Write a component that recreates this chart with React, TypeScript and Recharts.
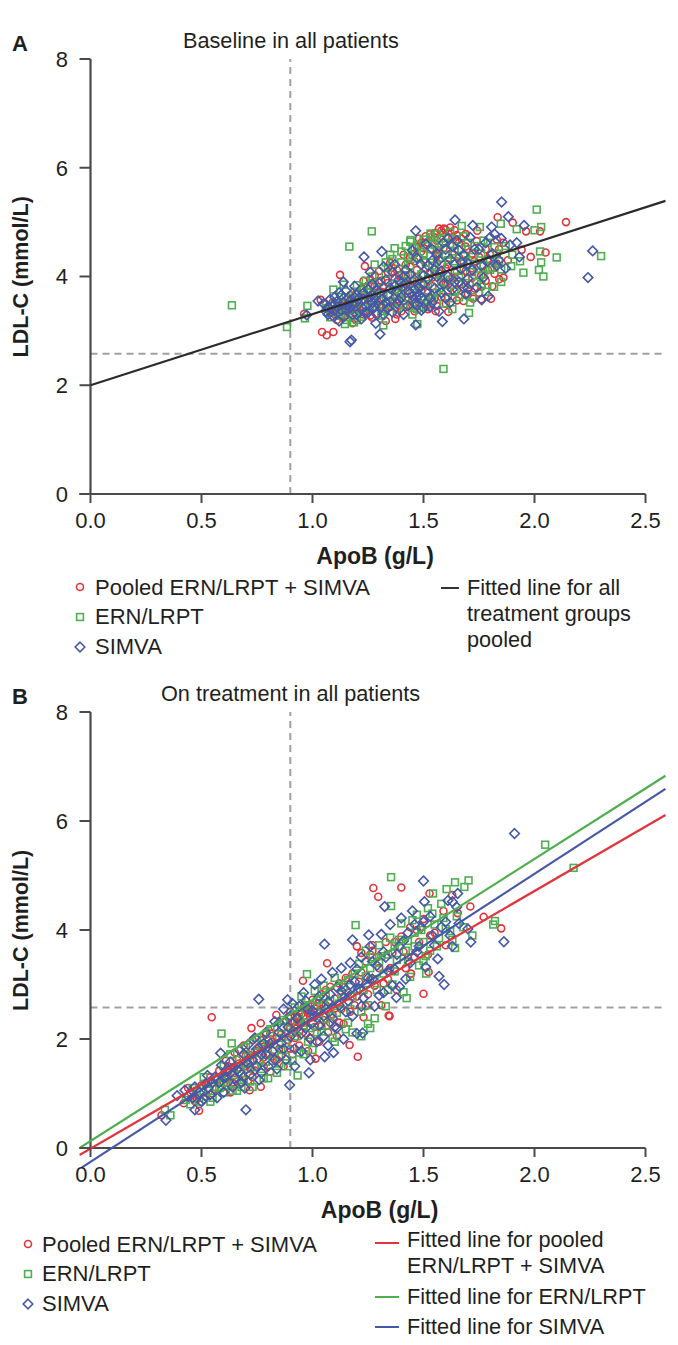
import React from "react";
import { ReferenceLine, Scatter, ScatterChart, XAxis, YAxis } from "recharts";

const RED = "#e2343c";
const GREEN = "#4eae50";
const BLUE = "#4458a8";
const AXIS = "#4a4a4a";
const DASH = "#a0a0a0";
const TEXT = "#1f1f1f";
const FONT = "'Liberation Sans', Arial, sans-serif";

const xTicks = [0, 0.5, 1, 1.5, 2, 2.5];
const yTicks = [0, 2, 4, 6, 8];
const apobCut = 0.9;
const ldlCut = 2.58;

// baseline panel
const baselineRed = [
  [2.142,5],[1.834,5.09],[1.902,4.99],[1.962,4.83],[2.025,4.83],[2.05,4.44],[1.983,4.36],[1.942,4.49],[1.124,4.03],[1.037,3.57],[0.962,3.31],[1.043,2.98],[1.064,2.92],[1.094,2.98],[1.373,3.22],[1.555,3.36],[1.612,3.35],[1.724,3.59],[1.804,3.59],[1.762,3.81],[1.841,3.95],[1.592,4.88],[1.742,4.84],[1.236,4.19],[1.86,4.62],
  [1.08,3.35],[1.11,3.2],[1.13,3.52],[1.15,3.28],[1.17,3.66],[1.18,3.14],[1.2,3.42],[1.22,3.78],[1.23,3.3],[1.25,3.6],[1.26,3.95],[1.27,3.24],[1.29,3.5],[1.3,4.1],[1.31,3.72],[1.33,3.38],[1.34,3.88],[1.35,4.25],[1.36,3.55],[1.38,3.3],[1.39,4.02],[1.4,3.68],[1.41,4.4],[1.42,3.44],[1.43,3.85],[1.44,4.18],[1.45,3.58],[1.46,3.36],[1.47,4.55],[1.48,3.95],[1.49,3.74],[1.5,4.3],[1.51,3.52],[1.52,4.62],[1.53,4.08],[1.54,3.82],[1.55,4.72],[1.56,3.46],[1.57,4.42],[1.58,3.9],[1.59,4.8],[1.6,4.15],[1.61,3.62],[1.62,4.58],[1.63,3.98],[1.64,4.85],[1.65,3.75],[1.66,4.35],[1.67,4.7],[1.68,3.55],[1.69,4.1],[1.7,4.5],[1.71,3.85],[1.73,4.28],[1.74,4.65],[1.75,3.7],[1.77,4.2],[1.78,3.92],[1.8,4.4],[1.82,4.05],[1.84,4.5],[1.86,3.98],[1.88,4.3],
  [1.12,3.4],[1.16,3.58],[1.21,3.5],[1.28,3.82],[1.32,3.6],[1.37,3.98],[1.43,3.62],[1.47,4.12],[1.52,3.7],[1.56,4.25],[1.6,3.86],[1.63,4.4],[1.67,4.02],[1.72,4.15],[1.5,4.52],[1.56,4.66],[1.61,4.72],[1.44,4.35],
  [1.1,3.3],[1.14,3.46],[1.19,3.22],[1.21,3.34],[1.24,3.44],[1.26,3.28],[1.27,3.68],[1.3,3.46],[1.32,3.82],[1.33,3.18],[1.35,3.44],[1.37,3.62],[1.38,4.12],[1.4,3.36],[1.41,3.8],[1.42,4.22],[1.44,3.46],[1.45,3.92],[1.46,4.28],[1.48,3.52],[1.49,4.46],[1.5,3.84],[1.51,4.14],[1.52,3.4],[1.53,4.5],[1.54,3.98],[1.55,3.6],[1.56,4.38],[1.57,4.06],[1.58,3.62],[1.59,4.52],[1.6,3.5],[1.61,4.22],[1.62,3.8],[1.63,4.72],[1.64,4.08],[1.65,3.56],[1.66,4.62],[1.67,3.86],[1.68,4.28],[1.69,4.78],[1.7,3.68],[1.72,4.42],[1.73,3.78],[1.75,4.36],[1.76,3.58],[1.78,4.5],[1.79,4.12],[1.81,3.82],[1.83,4.68],[1.58,4.84],[1.6,4.86],[1.55,4.8],[1.49,4.62],[1.23,3.92],[1.28,4.02],
  [1.07,3.42],[1.09,3.52],[1.13,3.26],[1.16,3.4],[1.18,3.52],[1.2,3.7],[1.24,3.64],[1.25,3.84],[1.29,3.32],[1.31,3.92],[1.34,4.08],[1.36,4.16],[1.39,3.46],[1.42,4.02],[1.46,4.42],[1.48,4.7],[1.51,4.74],[1.53,4.78],[1.57,4.88],[1.62,4.9],[1.65,4.76],[1.69,4.55],[1.72,3.98],[1.76,4.02],[1.79,4.32],[1.83,4.24],
];
const baselineGreen = [
  [0.637,3.47],[0.885,3.07],[2.01,5.23],[1.59,2.3],[2.3,4.375],[2.1,4.35],[2.03,4.91],[2,4.85],[2.025,4.46],[2.03,4.26],[2.02,4.12],[2.04,4],[1.95,4.07],[1.85,4.13],[1.895,4.19],[1.935,4.28],[1.267,4.83],[1.166,4.55],[1.094,3.76],[0.977,3.46],[0.966,3.23],[1.705,3.33],[1.472,3.125],[1.319,3.1],[1.187,3.156],[1.146,3.125],[1.818,3.81],[1.672,4.93],[1.754,4.91],[1.848,4.97],[1.92,4.87],[1.532,4.79],[1.442,4.67],
  [1.06,3.42],[1.1,3.5],[1.12,3.28],[1.14,3.85],[1.16,3.36],[1.19,3.72],[1.2,3.2],[1.22,3.55],[1.24,3.92],[1.26,3.42],[1.28,4.22],[1.29,3.68],[1.31,3.28],[1.33,4.05],[1.34,3.5],[1.36,4.32],[1.37,3.76],[1.38,3.4],[1.4,4.46],[1.41,3.92],[1.42,3.56],[1.44,4.2],[1.45,3.3],[1.46,4.52],[1.47,3.7],[1.49,4.04],[1.5,4.68],[1.51,3.44],[1.52,3.86],[1.53,4.38],[1.54,3.6],[1.55,4.58],[1.57,3.78],[1.58,4.22],[1.59,3.5],[1.6,4.62],[1.62,3.94],[1.63,3.4],[1.64,4.46],[1.65,4.12],[1.66,3.62],[1.68,4.74],[1.69,3.88],[1.7,4.3],[1.72,3.62],[1.73,4.56],[1.75,4.02],[1.76,4.42],[1.78,3.72],[1.79,4.62],[1.81,4.16],[1.83,4.42],[1.87,4.56],[1.9,4.4],
  [1.15,3.62],[1.23,3.75],[1.3,3.9],[1.35,3.66],[1.39,4.14],[1.43,4.02],[1.48,4.34],[1.5,3.62],[1.54,4.2],[1.58,4],[1.61,4.3],[1.64,3.72],[1.67,4.5],[1.71,4.08],[1.45,4.4],[1.56,4.78],[1.62,4.82],
  [1.08,3.25],[1.13,3.62],[1.17,3.46],[1.2,3.84],[1.22,3.26],[1.25,3.7],[1.27,4],[1.3,3.55],[1.32,3.36],[1.34,4.16],[1.36,3.86],[1.38,3.54],[1.4,4.26],[1.41,3.48],[1.43,4.36],[1.45,3.76],[1.46,3.46],[1.48,4.58],[1.49,3.88],[1.51,4.26],[1.52,3.54],[1.53,4.72],[1.55,4.04],[1.56,3.7],[1.57,4.48],[1.59,3.9],[1.6,4.4],[1.62,4.6],[1.63,3.6],[1.65,4.68],[1.66,3.98],[1.67,4.24],[1.69,3.66],[1.7,4.62],[1.71,3.52],[1.74,4.2],[1.76,3.86],[1.77,4.66],[1.8,4.3],[1.82,4.54],[1.85,3.9],[1.27,3.44],[1.19,3.4],[1.39,3.72],[1.47,3.98],
  [1.11,3.36],[1.15,3.2],[1.18,3.6],[1.21,3.42],[1.26,3.84],[1.28,3.56],[1.33,4.26],[1.35,4.4],[1.37,4.52],[1.42,4.56],[1.44,4.64],[1.47,3.4],[1.5,4.42],[1.54,4.62],[1.58,4.7],[1.61,3.72],[1.64,4.28],[1.68,4.38],[1.72,4.36],[1.74,3.9],[1.77,4.04],[1.8,4.12],[1.84,4.28],
];
const baselineBlue = [
  [1.852,5.37],[1.882,5.1],[2.262,4.47],[2.241,3.98],[1.642,5.04],[1.722,4.94],[1.953,4.94],[1.465,4.84],[1.807,4.91],[1.169,2.8],[1.175,2.83],[1.304,2.94],[1.585,3.17],[1.682,3.22],[1.465,3.11],[1.285,3.14],[1.312,4.46],[1.232,4.36],[1.139,3.9],[1.762,3.57],[1.792,3.64],[1.932,4.36],[1.025,3.55],[0.974,3.29],
  [1.05,3.5],[1.07,3.3],[1.09,3.46],[1.1,3.62],[1.12,3.18],[1.13,3.38],[1.15,3.74],[1.16,3.48],[1.18,3.3],[1.19,3.82],[1.21,3.6],[1.22,3.22],[1.24,3.46],[1.25,3.76],[1.26,4.08],[1.28,3.6],[1.29,3.3],[1.3,3.88],[1.32,4.18],[1.33,3.52],[1.35,3.78],[1.36,3.34],[1.37,4.22],[1.39,3.56],[1.4,3.88],[1.41,3.3],[1.42,4.12],[1.44,3.7],[1.45,4.48],[1.46,3.5],[1.48,3.8],[1.49,4.22],[1.5,3.42],[1.51,4.6],[1.52,3.96],[1.53,3.6],[1.55,4.12],[1.56,4.42],[1.57,3.36],[1.58,3.7],[1.6,4.5],[1.61,4],[1.62,3.52],[1.64,4.22],[1.65,4.66],[1.66,3.9],[1.68,4.4],[1.69,3.68],[1.71,4.72],[1.72,4.12],[1.74,3.8],[1.75,4.5],[1.77,3.98],[1.79,4.28],[1.8,4.72],[1.82,4.78],[1.84,4.3],[1.85,4.7],[1.87,4.15],[1.89,4.58],[1.92,4.62],
  [1.08,3.58],[1.11,3.44],[1.14,3.26],[1.17,3.56],[1.2,3.66],[1.23,3.58],[1.27,3.52],[1.31,3.44],[1.34,3.66],[1.38,3.72],[1.42,3.86],[1.46,3.94],[1.5,4.02],[1.54,4.3],[1.47,3.62],[1.58,4.1],[1.63,3.76],[1.67,4.14],[1.7,3.96],
  [1.06,3.36],[1.09,3.28],[1.11,3.54],[1.13,3.66],[1.15,3.4],[1.18,3.5],[1.2,3.3],[1.22,3.44],[1.25,3.34],[1.26,3.62],[1.28,3.44],[1.3,3.7],[1.31,3.58],[1.33,3.94],[1.35,3.54],[1.37,3.82],[1.38,3.5],[1.4,3.62],[1.41,4],[1.43,3.46],[1.44,4.04],[1.46,3.76],[1.47,4.34],[1.49,3.6],[1.5,3.86],[1.52,4.2],[1.53,3.44],[1.55,3.78],[1.57,4.3],[1.59,3.86],[1.6,3.6],[1.62,4.32],[1.64,3.9],[1.66,4.48],[1.68,3.8],[1.7,4.24],[1.73,4.5],[1.76,4.2],[1.78,4.62],[1.81,4.42],[1.83,4.2],[1.27,3.86],[1.36,4.08],[1.48,3.66],[1.54,4.5],
  [1.07,3.44],[1.1,3.38],[1.12,3.7],[1.14,3.52],[1.17,3.42],[1.19,3.62],[1.23,3.7],[1.24,3.34],[1.27,3.42],[1.29,3.74],[1.32,3.3],[1.34,3.42],[1.39,3.94],[1.43,3.74],[1.45,3.64],[1.47,3.48],[1.49,3.38],[1.51,3.72],[1.54,3.52],[1.56,4.0],[1.59,4.62],[1.61,4.7],[1.63,4.56],[1.67,4.26],[1.7,3.78],
];

// on treatment panel
const onTreatmentRed = [
  [1.274,4.77],[1.296,4.61],[1.4,4.78],[1.629,4.64],[1.711,4.43],[1.771,4.24],[1.85,4.03],[1.654,4.31],[1.59,4.35],[1.527,4.67],[1.444,3.2],[1.523,3.23],[1.5,2.83],[1.343,2.43],[1.066,3.39],[0.546,2.4],[1.204,1.675],[1.167,1.89],[1.347,2.42],[1.014,1.64],[0.767,1.125],[0.717,1.06],[0.489,0.684],[0.32,0.6],[0.725,2.2],[0.767,2.29],[0.837,2.44],[0.957,3.07],
  [0.42,0.82],[0.45,1.02],[0.48,0.9],[0.5,1.15],[0.52,0.95],[0.54,1.3],[0.56,1.08],[0.58,1.42],[0.6,1.18],[0.61,1.6],[0.62,1.3],[0.63,1.02],[0.64,1.48],[0.65,1.75],[0.66,1.22],[0.67,1.55],[0.68,1.36],[0.69,1.88],[0.7,1.5],[0.71,1.24],[0.72,1.7],[0.73,1.98],[0.74,1.42],[0.75,1.62],[0.76,1.85],[0.78,1.5],[0.79,2.08],[0.8,1.72],[0.81,1.4],[0.82,1.95],[0.83,2.22],[0.84,1.62],[0.85,1.82],[0.86,2.1],[0.87,1.5],[0.88,2.32],[0.89,1.98],[0.9,2.5],[0.91,1.72],[0.92,2.2],[0.93,2.42],[0.94,1.88],[0.95,2.3],[0.96,2.58],[0.97,2.1],[0.98,1.78],[0.99,2.4],[1,2.72],[1.01,2.22],[1.02,2.5],[1.03,1.95],[1.04,2.82],[1.05,2.35],[1.06,2.62],[1.07,2.12],[1.08,2.96],[1.09,2.45],[1.1,2.74],[1.11,2.05],[1.12,3.02],[1.13,2.55],[1.14,2.28],[1.16,2.85],[1.18,3.2],[1.19,2.62],[1.21,3.05],[1.23,2.4],[1.24,3.42],[1.25,2.82],[1.27,3.62],[1.28,2.98],[1.3,3.3],[1.31,2.62],[1.33,3.78],[1.34,3.1],[1.36,3.58],[1.38,2.9],[1.4,3.88],[1.42,3.3],[1.44,4.05],[1.46,3.5],[1.48,3.78],[1.5,4.2],[1.52,3.55],[1.55,3.95],[1.6,3.72],
  [0.9,2.2],[0.92,2.32],[0.94,2.38],[0.95,2.46],[0.96,2.42],[0.97,2.55],[0.98,2.48],[0.93,2.26],[0.91,2.3],[1,2.4],[1.02,2.6],[1.2,3.7],[1.22,3.58],[1.26,3.55],[1.27,3.72],
  [0.44,1.1],[0.47,0.86],[0.51,1.02],[0.53,1.22],[0.55,1],[0.57,1.25],[0.59,1.1],[0.6,1.36],[0.62,1.5],[0.64,1.2],[0.65,1.38],[0.66,1.62],[0.68,1.2],[0.7,1.7],[0.72,1.46],[0.73,1.3],[0.75,1.78],[0.77,1.98],[0.78,1.66],[0.8,1.9],[0.81,2.1],[0.82,1.68],[0.84,2.02],[0.86,1.7],[0.88,2.1],[0.89,2.4],[0.9,1.82],[0.92,2.02],[0.94,2.14],[0.96,2.24],[0.98,2.62],[0.99,2.02],[1.01,2.56],[1.03,2.66],[1.04,2.24],[1.06,2.9],[1.08,2.3],[1.1,2.56],[1.12,2.3],[1.14,2.78],[1.15,3.12],[1.17,2.5],[1.2,2.78],[1.22,3.22],[1.24,2.6],[1.26,3.1],[1.29,3.5],[1.32,3.02],[1.35,3.3],[1.37,3.78],[1.41,3.6],[1.43,3.5],[1.47,4],[1.53,3.9],
];
const onTreatmentGreen = [
  [2.048,5.565],[2.176,5.14],[1.354,4.97],[1.194,4.09],[1.703,4.91],[1.642,4.875],[1.684,4.79],[1.604,4.75],[1.543,4.67],[1.822,4.165],[1.814,4.1],[1.642,3.67],[1.5,3.43],[1.424,2.75],[1.512,3.2],[0.59,2.1],[0.933,1.33],[0.36,0.6],[0.335,0.7],[0.975,3.19],[0.636,1.92],[0.8,1.28],[1.25,2.28],[1.22,2.05],[1.354,4.44],
  [0.43,0.88],[0.46,1.1],[0.49,0.85],[0.51,1.3],[0.53,1.05],[0.55,0.92],[0.57,1.28],[0.58,1.1],[0.6,1.5],[0.62,1.15],[0.63,1.72],[0.65,1.34],[0.66,1.05],[0.67,1.62],[0.69,1.25],[0.7,1.85],[0.71,1.45],[0.73,1.12],[0.74,1.75],[0.75,2.02],[0.77,1.45],[0.78,1.28],[0.79,1.82],[0.81,2.18],[0.82,1.6],[0.84,1.38],[0.85,2.02],[0.87,2.35],[0.88,1.68],[0.89,1.5],[0.91,2.12],[0.92,2.58],[0.94,1.75],[0.95,2.78],[0.96,2.25],[0.98,1.95],[0.99,2.62],[1.01,2.88],[1.02,2.12],[1.03,2.42],[1.05,2.98],[1.06,2.25],[1.08,2.7],[1.09,2.02],[1.1,3.12],[1.11,2.48],[1.13,2.82],[1.15,2.18],[1.16,3.08],[1.17,2.55],[1.18,2.12],[1.2,2.9],[1.21,3.38],[1.22,2.5],[1.24,3.15],[1.25,2.62],[1.27,3.5],[1.28,2.38],[1.29,2.9],[1.3,3.72],[1.32,3.2],[1.33,2.6],[1.35,3.86],[1.36,3],[1.38,3.45],[1.4,4.12],[1.41,2.86],[1.42,3.62],[1.44,3.14],[1.46,3.95],[1.47,4.28],[1.48,3.35],[1.5,3.78],[1.52,4.4],[1.53,3.62],[1.55,4.1],[1.57,3.85],[1.58,4.48],[1.6,4.02],[1.63,3.82],[1.65,4.25],[1.68,4.05],[1.72,3.9],
  [1.24,3.62],[1.26,3.3],[1.3,3.4],[1.34,3.55],[1.37,3.7],[1.43,3.8],[1.46,3.7],[1.04,2.6],[0.97,2.3],[0.86,1.8],
  [0.45,0.8],[0.48,1.05],[0.52,1.18],[0.54,0.85],[0.56,1.12],[0.59,1.3],[0.6,1.02],[0.61,1.2],[0.64,1.05],[0.66,1.45],[0.68,1.12],[0.69,1.55],[0.71,1.68],[0.72,1.22],[0.74,1.48],[0.76,1.62],[0.77,1.9],[0.79,1.58],[0.8,2],[0.83,1.78],[0.85,1.55],[0.86,2.2],[0.88,1.92],[0.9,2.3],[0.91,1.6],[0.93,2.05],[0.94,2.45],[0.96,1.72],[0.97,2.62],[0.99,2.2],[1,1.8],[1.02,2.72],[1.04,2.14],[1.06,2.78],[1.08,2.42],[1.1,1.95],[1.12,2.65],[1.14,2.95],[1.16,2.3],[1.18,2.78],[1.19,3.2],[1.23,2.9],[1.26,2.2],[1.28,3.1],[1.31,3.52],[1.34,2.9],[1.37,3.24],[1.39,3.82],[1.43,3.42],[1.45,4.18],[1.49,4],[1.51,3.52],[1.54,4.3],[1.56,3.7],[1.59,4.22],[1.62,3.98],
];
const onTreatmentBlue = [
  [1.91,5.77],[1.862,3.785],[1.713,3.78],[1.593,3],[1.5,4.9],[1.504,4.52],[1.654,4.67],[1.325,4.43],[1.054,3.74],[1.18,3.82],[1.61,4.54],[1.564,3.47],[1.378,2.76],[1.392,2.96],[1.253,3.91],[0.758,2.73],[0.897,1.156],[0.7,0.7],[0.34,0.51],[0.984,1.38],[1.095,1.75],[1.055,1.675],[1.226,2.11],[0.586,1.74],[0.527,1.33],[0.39,0.96],[0.425,1.06],[0.47,0.7],[0.695,1.1],[0.888,2.72],[1.63,4.52],[1.65,4.42],
  [0.44,0.95],[0.47,1.12],[0.5,0.85],[0.52,1.18],[0.54,0.98],[0.56,1.3],[0.57,0.92],[0.59,1.52],[0.6,1.02],[0.61,1.3],[0.63,1.58],[0.64,1.12],[0.66,1.44],[0.67,1.8],[0.68,1.2],[0.7,1.58],[0.71,1.9],[0.72,1.35],[0.74,2.02],[0.75,1.5],[0.76,1.25],[0.77,1.72],[0.79,2.12],[0.8,1.5],[0.82,1.78],[0.83,2.32],[0.84,1.45],[0.86,1.92],[0.87,2.55],[0.88,1.62],[0.9,2.05],[0.91,2.65],[0.92,1.5],[0.93,2.38],[0.95,1.78],[0.96,2.85],[0.97,2.2],[0.99,1.62],[1,2.52],[1.01,3],[1.02,1.95],[1.03,2.25],[1.04,3.1],[1.06,2.55],[1.07,1.88],[1.08,2.82],[1.09,3.22],[1.1,2.22],[1.12,2.62],[1.13,3.3],[1.14,2],[1.15,2.9],[1.17,3.4],[1.18,2.42],[1.19,3.05],[1.2,2.1],[1.22,3.5],[1.23,2.75],[1.25,3.12],[1.26,3.7],[1.28,2.6],[1.29,3.35],[1.31,3.92],[1.32,2.85],[1.33,3.5],[1.35,4.1],[1.36,2.98],[1.37,3.28],[1.39,3.7],[1.4,4.22],[1.42,3.1],[1.43,3.95],[1.45,4.35],[1.47,3.6],[1.49,4.05],[1.51,3.32],[1.53,4.25],[1.55,3.72],[1.57,3.15],[1.6,4.15],[1.62,3.9],[1.66,4.12],[1.7,4.02],
  [0.98,2.55],[1,2.3],[1.05,2.42],[1.11,2.95],[1.16,2.7],[1.21,2.92],[1.27,3.1],[0.78,1.92],[0.85,2.12],[0.69,1.72],[0.55,1.2],[0.62,1.42],
  [0.46,0.92],[0.49,1.02],[0.51,0.9],[0.53,1.1],[0.58,1.2],[0.6,1.3],[0.65,1.28],[0.67,1.4],[0.69,1.3],[0.71,1.55],[0.73,1.62],[0.75,1.82],[0.77,1.38],[0.79,1.72],[0.81,1.92],[0.83,1.62],[0.85,2.3],[0.87,1.82],[0.89,2.22],[0.9,2.42],[0.92,1.82],[0.94,2.6],[0.95,2.1],[0.97,2.7],[0.99,2],[1.01,2.42],[1.03,2.78],[1.05,2.05],[1.07,2.68],[1.09,2.38],[1.11,2.2],[1.13,2.88],[1.15,2.5],[1.17,3],[1.2,3.28],[1.22,2.6],[1.24,3],[1.27,3.42],[1.3,2.8],[1.32,3.6],[1.34,3.25],[1.38,3.55],[1.41,3.8],[1.44,3.4],[1.46,4.1],[1.48,3.7],[1.5,4.15],[1.54,3.9],[1.58,4.05],[1.63,3.7],
];

const fitAll = [[0, 2], [2.59, 5.39]];
const fitRed = [[-0.05, -0.13], [2.59, 6.11]];
const fitGreen = [[-0.05, 0], [2.59, 6.83]];
const fitBlue = [[-0.04, -0.36], [2.59, 6.59]];

const legendPoints = ["Pooled ERN/LRPT + SIMVA", "ERN/LRPT", "SIMVA"];

const toPoints = (rows: number[][]) => rows.map(([x, y]) => ({ x, y }));

const Circle = (p: any) => <circle cx={p.cx} cy={p.cy} r={3.5} fill="none" stroke={RED} strokeWidth={1.6} />;
const Square = (p: any) => <rect x={p.cx - 3.4} y={p.cy - 3.4} width={6.8} height={6.8} fill="none" stroke={GREEN} strokeWidth={1.6} />;
const Diamond = (p: any) => (
  <path d={`M${p.cx} ${p.cy - 4.8}L${p.cx + 4.8} ${p.cy}L${p.cx} ${p.cy + 4.8}L${p.cx - 4.8} ${p.cy}Z`} fill="none" stroke={BLUE} strokeWidth={1.6} />
);
const NoDot = () => null;

const YTick = (p: any) => (
  <g>
    <line x1={79.5} x2={90.5} y1={p.y} y2={p.y} stroke={AXIS} strokeWidth={2} />
    <text x={68} y={p.y + 8} textAnchor="end" fontSize={22} fontFamily={FONT} fill={TEXT}>{p.payload.value}</text>
  </g>
);

// the x axis sits at y=0, above the bottom of the plot, so its ticks are drawn from there
const makeXTick = (zeroY: number) => (p: any) => (
  <g>
    <line x1={p.x} x2={p.x} y1={zeroY} y2={zeroY + 9} stroke={AXIS} strokeWidth={2} />
    <text x={p.x} y={zeroY + 34} textAnchor="middle" fontSize={22} fontFamily={FONT} fill={TEXT}>{p.payload.value.toFixed(1)}</text>
  </g>
);

interface PanelProps {
  top: number;
  height: number;
  marginTop: number;
  marginBottom: number;
  zeroY: number;
  red: number[][];
  green: number[][];
  blue: number[][];
  fits: { rows: number[][]; color: string }[];
  labelShift: number;
}

const Panel = ({ top, height, marginTop, marginBottom, zeroY, red, green, blue, fits, labelShift }: PanelProps) => (
  <div style={{ position: "absolute", left: 0, top }}>
    <ScatterChart width={678} height={height} margin={{ top: marginTop, right: 10.3, bottom: marginBottom, left: 0 }}>
      <XAxis
        type="number"
        dataKey="x"
        domain={[-0.05, 2.6]}
        ticks={xTicks}
        allowDataOverflow
        axisLine={false}
        tickLine={false}
        tick={makeXTick(zeroY)}
        height={40}
        label={{ value: "ApoB (g/L)", position: "insideBottom", offset: 3, dx: labelShift, style: { fontSize: 23, fontWeight: 700, fontFamily: FONT, fill: TEXT } }}
      />
      <YAxis
        type="number"
        dataKey="y"
        domain={[-0.6, 8]}
        ticks={yTicks}
        allowDataOverflow
        width={79.4}
        axisLine={false}
        tickLine={false}
        tick={YTick}
        label={{ value: "LDL-C (mmol/L)", angle: -90, position: "insideLeft", offset: 20, dy: -16, style: { textAnchor: "middle", fontSize: 21.5, fontWeight: 700, fontFamily: FONT, fill: TEXT } }}
      />
      <ReferenceLine segment={[{ x: apobCut, y: 0 }, { x: apobCut, y: 8 }]} stroke={DASH} strokeWidth={2} strokeDasharray="7 5" />
      <ReferenceLine segment={[{ x: 0, y: ldlCut }, { x: 2.59, y: ldlCut }]} stroke={DASH} strokeWidth={2} strokeDasharray="7 5" />
      <ReferenceLine segment={[{ x: 0, y: 0 }, { x: 0, y: 8 }]} stroke={AXIS} strokeWidth={2.2} />
      <ReferenceLine segment={[{ x: -0.05, y: 0 }, { x: 2.5, y: 0 }]} stroke={AXIS} strokeWidth={2.2} />
      <Scatter data={toPoints(red)} shape={Circle} isAnimationActive={false} />
      <Scatter data={toPoints(green)} shape={Square} isAnimationActive={false} />
      <Scatter data={toPoints(blue)} shape={Diamond} isAnimationActive={false} />
      {fits.map((f, i) => (
        <Scatter key={i} data={toPoints(f.rows)} shape={NoDot} line={{ stroke: f.color, strokeWidth: 2.2 }} isAnimationActive={false} />
      ))}
    </ScatterChart>
  </div>
);

const Txt = ({ x, y, children, bold, size = 22 }: { x: number; y: number; children: React.ReactNode; bold?: boolean; size?: number }) => (
  <div style={{ position: "absolute", left: x, top: y - 13, height: 26, lineHeight: "26px", fontSize: size, fontFamily: FONT, fontWeight: bold ? 700 : 400, color: TEXT, whiteSpace: "nowrap" }}>
    {children}
  </div>
);

const Marker = ({ x, y, kind }: { x: number; y: number; kind: number }) => (
  <svg style={{ position: "absolute", left: x - 6, top: y - 6 }} width={12} height={12}>
    {kind === 0 && <Circle cx={6} cy={6} />}
    {kind === 1 && <Square cx={6} cy={6} />}
    {kind === 2 && <Diamond cx={6} cy={6} />}
  </svg>
);

const Dash = ({ x, y, width, color, h = 2 }: { x: number; y: number; width: number; color: string; h?: number }) => (
  <div style={{ position: "absolute", left: x, top: y - h / 2, width, height: h, background: color }} />
);

export default function App() {
  return (
    <div style={{ position: "absolute", left: 0, top: 0, width: 678, height: 1345, background: "#fff", overflow: "hidden" }}>
      <Panel
        top={0}
        height={640}
        marginTop={59}
        marginBottom={73.4}
        zeroY={494}
        red={baselineRed}
        green={baselineGreen}
        blue={baselineBlue}
        fits={[{ rows: fitAll, color: "#2b2b2b" }]}
        labelShift={1.5}
      />
      <Panel
        top={660}
        height={685}
        marginTop={52}
        marginBottom={124.3}
        zeroY={488}
        red={onTreatmentRed}
        green={onTreatmentGreen}
        blue={onTreatmentBlue}
        fits={[
          { rows: fitRed, color: RED },
          { rows: fitGreen, color: GREEN },
          { rows: fitBlue, color: BLUE },
        ]}
        labelShift={6}
      />

      <Txt x={12} y={44} bold>A</Txt>
      <Txt x={183} y={41} size={21.7}>Baseline in all patients</Txt>
      {legendPoints.map((t, i) => (
        <React.Fragment key={t}>
          <Marker x={80} y={[587, 617, 647][i]} kind={i} />
          <Txt x={95} y={[588, 617, 647][i]}>{t}</Txt>
        </React.Fragment>
      ))}
      <Dash x={441} y={588} width={18} color="#333" h={1.5} />
      <Txt x={467} y={588} size={21.7}>Fitted line for all</Txt>
      <Txt x={467} y={614} size={21.7}>treatment groups</Txt>
      <Txt x={467} y={640} size={21.7}>pooled</Txt>

      <Txt x={12} y={697} bold>B</Txt>
      <Txt x={161} y={694} size={21.7}>On treatment in all patients</Txt>
      {legendPoints.map((t, i) => (
        <React.Fragment key={t}>
          <Marker x={28} y={[1244, 1274, 1304][i]} kind={i} />
          <Txt x={42} y={[1245, 1274, 1304][i]}>{t}</Txt>
        </React.Fragment>
      ))}
      <Dash x={375} y={1243} width={24} color={RED} />
      <Txt x={407} y={1240} size={21.7}>Fitted line for pooled</Txt>
      <Txt x={407} y={1266} size={21.7}>ERN/LRPT + SIMVA</Txt>
      <Dash x={375} y={1297} width={24} color={GREEN} />
      <Txt x={407} y={1297} size={21.7}>Fitted line for ERN/LRPT</Txt>
      <Dash x={375} y={1327} width={24} color={BLUE} />
      <Txt x={407} y={1327} size={21.7}>Fitted line for SIMVA</Txt>
    </div>
  );
}
